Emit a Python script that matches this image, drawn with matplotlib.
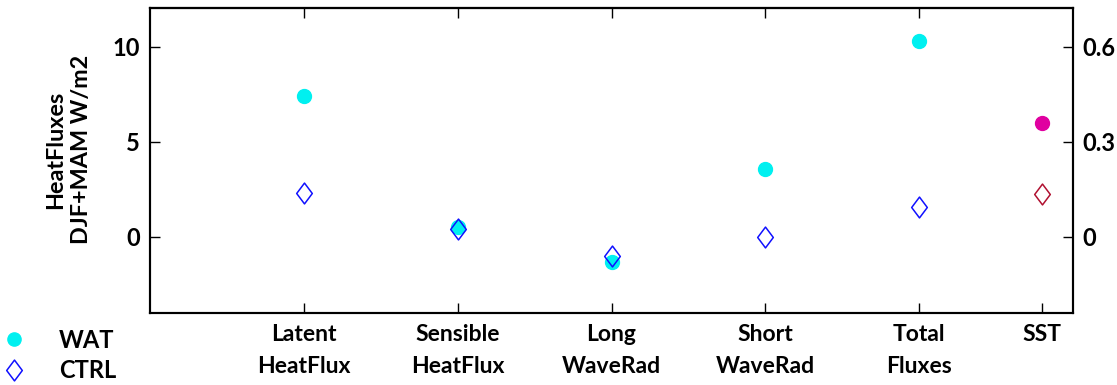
import matplotlib
matplotlib.use("Agg")
import matplotlib.pyplot as plt
from matplotlib.path import Path
from matplotlib.lines import Line2D

# ---- data ----
categories = ["Latent\nHeatFlux", "Sensible\nHeatFlux", "Long\nWaveRad", "Short\nWaveRad", "Total\nFluxes", "SST"]
flux_x = [1, 2, 3, 4, 5]
sst_x = [5.8]
wat_flux = [7.4, 0.5, -1.3, 3.6, 10.3]
ctrl_flux = [2.3, 0.4, -1.0, 0.0, 1.6]
wat_sst = [0.36]
ctrl_sst = [0.135]
left_ticks = [0, 5, 10]
right_ticks = [0, 0.3, 0.6]
right_ticklabels = ["0", "0.3", "0.6"]

plt.rcParams['font.family'] = ['Lato', 'DejaVu Sans']
FW = 'bold'

diamond = Path([(0, 1), (0.75, 0), (0, -1), (-0.75, 0), (0, 1)],
               [Path.MOVETO, Path.LINETO, Path.LINETO, Path.LINETO, Path.CLOSEPOLY])

fig = plt.figure(figsize=(11.17, 3.85), dpi=100)
ax = fig.add_axes([150/1117, 1 - 313/385, (1073-150)/1117, (313-8)/385])
ax2 = ax.twinx()

ax.plot(flux_x, wat_flux, ls='none', marker='o', ms=10, mfc='#00f0f0', mec='#00f0f0', label='WAT')
ax.plot(flux_x, ctrl_flux, ls='none', marker=diamond, ms=15, mfc='none', mec='#1010ff', mew=1.1, label='CTRL')
ax2.plot(sst_x, wat_sst, ls='none', marker='o', ms=10, mfc='#e000a0', mec='#e000a0')
ax2.plot(sst_x, ctrl_sst, ls='none', marker=diamond, ms=15, mfc='none', mec='#b01030', mew=1.1)

ax.set_xlim(0, 6)
ax.set_ylim(-4, 12.05)
ax2.set_ylim(-0.24, 0.723)

ax.set_xticks(flux_x + sst_x)
ax.set_xticklabels(categories, fontsize=16.5, linespacing=1.62, fontweight=FW)
ax.set_yticks(left_ticks)
ax.set_yticklabels([str(t) for t in left_ticks], fontsize=17, fontweight=FW)
ax2.set_yticks(right_ticks)
ax2.set_yticklabels(right_ticklabels, fontsize=17, fontweight=FW)

ax.tick_params(axis='x', direction='in', length=7, width=1, pad=8, top=False)
ax.tick_params(axis='y', direction='in', length=7, width=1, pad=7)
ax2.tick_params(axis='y', direction='in', length=7, width=1, pad=7)

# top ticks only at flux categories
axt = ax.secondary_xaxis('top')
axt.set_xticks(flux_x)
axt.set_xticklabels([])
axt.tick_params(direction='in', length=7, width=1)

for a in (ax, ax2):
    for s in a.spines.values():
        s.set_linewidth(1.5)
axt.spines['top'].set_linewidth(1.5)

ax.set_ylabel("HeatFluxes\nDJF+MAM W/m2", fontsize=16.8, linespacing=1.3, fontweight=FW)
ax.yaxis.set_label_coords(-0.0625, 0.535)

fig.legend(handles=[
    Line2D([], [], ls='none', marker='o', ms=9.5, mfc='#00f0f0', mec='#00f0f0', label='WAT'),
    Line2D([], [], ls='none', marker=diamond, ms=15, mfc='none', mec='#1010ff', mew=1.1, label='CTRL')],
    loc='upper left', bbox_to_anchor=(-0.013, 1 - 312/385), frameon=False,
    prop={'size': 17, 'weight': FW}, handlelength=1, handletextpad=1.4, labelspacing=0.33, borderpad=0.2)

fig.savefig("out.png", dpi=100)
